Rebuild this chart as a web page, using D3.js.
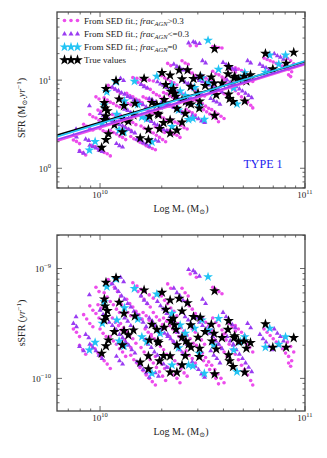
<!DOCTYPE html>
<html>
<head>
<meta charset="utf-8">
<script src="https://cdn.jsdelivr.net/npm/d3@7"></script>
<style>
  body { margin: 0; background: #fff; }
  text { font-family: "Liberation Serif", "DejaVu Serif", serif; fill: #222; }
</style>
</head>
<body>
<script>
// values: [log10 M*, log10 sSFR]; SFR follows as sSFR * M*
const trueVals = [[10.078,-9.085],[10.029,-9.127],[10.215,-9.197],[10.302,-9.218],[10.021,-9.279],[10.093,-9.309],[10.342,-9.288],[10.386,-9.273],[10.427,-9.313],[10.321,-9.373],[10.400,-9.388],[10.036,-9.385],[10.024,-9.343],[10.559,-9.204],[10.029,-9.440],[10.020,-9.470],[10.117,-9.409],[10.170,-9.434],[10.358,-9.455],[10.346,-9.476],[10.456,-9.440],[10.489,-9.445],[10.627,-9.476],[10.807,-9.506],[10.543,-9.509],[10.442,-9.515],[10.363,-9.515],[10.070,-9.576],[10.117,-9.567],[10.163,-9.561],[10.253,-9.509],[10.277,-9.555],[10.313,-9.536],[10.370,-9.555],[10.624,-9.555],[10.513,-9.576],[10.556,-9.591],[10.657,-9.615],[10.676,-9.667],[10.734,-9.676],[10.945,-9.631],[10.041,-9.652],[10.138,-9.606],[10.241,-9.652],[10.282,-9.661],[10.400,-9.627],[10.419,-9.661],[10.478,-9.627],[10.546,-9.661],[10.008,-9.773],[10.029,-9.706],[10.109,-9.697],[10.196,-9.854],[10.236,-9.797],[10.236,-9.915],[10.290,-9.843],[10.310,-9.795],[10.342,-9.797],[10.342,-9.945],[10.375,-9.945],[10.400,-9.879],[10.416,-9.795],[10.444,-9.718],[10.484,-9.803],[10.486,-9.727],[10.559,-9.961],[10.567,-9.734],[10.627,-9.788],[10.632,-9.843],[10.649,-9.894],[10.706,-9.945],[10.714,-9.727],[10.843,-9.718],[10.908,-9.718],[10.285,-9.676],[10.375,-9.697],[10.432,-9.691],[10.595,-9.631],[10.654,-9.631],[10.703,-9.661]];

const sedAgn0 = [[10.527,-9.076],[10.078,-9.097],[10.033,-9.167],[10.168,-9.182],[10.277,-9.234],[10.020,-9.304],[10.119,-9.358],[10.184,-9.461],[10.011,-9.500],[10.204,-9.622],[10.082,-9.470],[10.351,-9.409],[10.391,-9.515],[10.497,-9.470],[10.578,-9.455],[10.828,-9.545],[10.905,-9.622],[10.706,-9.622],[10.461,-9.545],[10.530,-9.561],[10.416,-9.591],[10.293,-9.591],[10.228,-9.667],[9.976,-9.673],[10.093,-9.661],[9.948,-9.743],[10.253,-9.955],[10.351,-9.879],[10.432,-9.879],[10.453,-9.888],[10.509,-9.955],[10.668,-9.940],[10.685,-9.667],[10.807,-9.718],[10.872,-9.691],[10.484,-9.773],[10.383,-9.722],[10.117,-9.706],[10.554,-9.697],[10.652,-9.743]];

const sedAgnHigh = [[9.87,-9.55],[9.885,-9.58],[9.90,-9.62],[9.95,-9.34],[9.965,-9.38],[9.98,-9.41],[9.995,-9.45],
  [10.02,-9.22],[10.035,-9.26],[10.05,-9.30],[10.065,-9.33],[10.08,-9.37],[10.095,-9.40],
  [10.04,-9.10],[10.055,-9.14],[10.07,-9.17],[10.085,-9.21],[10.10,-9.25],
  [9.96,-9.70],[9.975,-9.73],[9.99,-9.77],[10.005,-9.80],[10.02,-9.84],[10.035,-9.87],[10.05,-9.91],
  [10.05,-9.62],[10.065,-9.66],[10.08,-9.69],[10.095,-9.73],[10.11,-9.76],[10.125,-9.80],
  [10.10,-9.50],[10.115,-9.54],[10.13,-9.57],[10.145,-9.61],[10.16,-9.64],[10.175,-9.68],
  [10.13,-9.28],[10.145,-9.32],[10.16,-9.35],[10.175,-9.39],[10.19,-9.42],[10.205,-9.46],
  [10.17,-9.18],[10.185,-9.21],[10.20,-9.25],[10.215,-9.28],[10.23,-9.32],[10.245,-9.35],
  [10.20,-9.72],[10.215,-9.76],[10.23,-9.79],[10.245,-9.83],[10.26,-9.86],[10.275,-9.90],[10.29,-9.94],[10.305,-9.98],[10.32,-10.02],
  [10.25,-9.60],[10.265,-9.64],[10.28,-9.67],[10.295,-9.71],[10.31,-9.74],[10.325,-9.78],
  [10.26,-9.40],[10.275,-9.44],[10.29,-9.47],[10.305,-9.51],[10.32,-9.54],
  [10.30,-9.25],[10.315,-9.29],[10.33,-9.32],[10.345,-9.36],[10.36,-9.39],[10.375,-9.43],
  [10.35,-9.80],[10.365,-9.84],[10.38,-9.87],[10.395,-9.91],[10.41,-9.95],[10.425,-9.98],
  [10.38,-9.50],[10.395,-9.54],[10.41,-9.57],[10.425,-9.61],[10.44,-9.64],[10.455,-9.68],
  [10.42,-9.30],[10.435,-9.34],[10.45,-9.37],[10.465,-9.41],[10.48,-9.44],
  [10.47,-9.70],[10.485,-9.74],[10.50,-9.77],[10.515,-9.81],[10.53,-9.85],[10.545,-9.88],[10.56,-9.92],[10.575,-9.96],[10.59,-10.00],[10.605,-10.04],
  [10.50,-9.45],[10.515,-9.49],[10.53,-9.52],[10.545,-9.56],[10.56,-9.59],
  [10.55,-9.17],[10.565,-9.19],[10.58,-9.21],[10.595,-9.23],
  [10.60,-9.60],[10.615,-9.65],[10.63,-9.69],[10.645,-9.74],[10.66,-9.78],[10.675,-9.83],[10.69,-9.88],[10.705,-9.92],[10.72,-9.97],[10.735,-10.02],[10.745,-10.06],
  [10.66,-9.52],[10.675,-9.55],[10.69,-9.58],[10.705,-9.61],
  [10.80,-9.55],[10.815,-9.58],[10.83,-9.61],[10.845,-9.64],[10.86,-9.67],[10.875,-9.70],[10.89,-9.73],[10.905,-9.77],[10.92,-9.80],[10.935,-9.84],
  [10.90,-9.63],[10.915,-9.67],[10.93,-9.71],[10.945,-9.76],[10.92,-9.86],[10.93,-9.89],
  [10.16,-9.13],[10.18,-9.16],[10.20,-9.19],[10.22,-9.21],[10.24,-9.24],[10.26,-9.27],
  [10.15,-9.79],[10.165,-9.83],[10.18,-9.86],[10.195,-9.90],[10.21,-9.93],[10.225,-9.97],[10.24,-10.00],[10.255,-10.03],[10.27,-10.06],
  [10.49,-9.80],[10.505,-9.84],[10.52,-9.88],[10.535,-9.92],[10.55,-9.96],[10.565,-10.00],[10.578,-10.05],
  [10.33,-9.90],[10.345,-9.93],[10.36,-9.97],[10.375,-10.00],[10.39,-10.04],
  [10.44,-9.05],[10.47,-9.08],[9.99,-9.33],[10.005,-9.36],[9.90,-9.70],[9.915,-9.74],[9.93,-9.78],
  [10.09,-9.30],[10.105,-9.33],[10.12,-9.36],[10.135,-9.40],[10.15,-9.43],
  [10.21,-9.40],[10.225,-9.43],[10.24,-9.47],[10.255,-9.50],[10.27,-9.53],
  [10.31,-9.45],[10.325,-9.48],[10.34,-9.52],[10.355,-9.55],[10.37,-9.58],[10.385,-9.62],
  [10.34,-9.62],[10.355,-9.66],[10.37,-9.69],[10.385,-9.73],[10.40,-9.76],
  [10.45,-9.55],[10.465,-9.58],[10.48,-9.62],[10.495,-9.65],[10.51,-9.69],
  [10.55,-9.45],[10.565,-9.49],[10.58,-9.52],[10.595,-9.56],[10.61,-9.59],
  [10.56,-9.65],[10.575,-9.69],[10.59,-9.72],[10.605,-9.76],[10.62,-9.80],
  [10.06,-9.45],[10.075,-9.49],[10.09,-9.52],[10.105,-9.56],
  [10.12,-9.65],[10.135,-9.69],[10.15,-9.72],
  [9.92,-9.42],[9.935,-9.46],[9.95,-9.50],[9.965,-9.53],
  [10.00,-9.55],[10.015,-9.59],[10.03,-9.62],
  [10.27,-9.80],[10.285,-9.84],[10.30,-9.87],[10.315,-9.91],
  [10.42,-9.75],[10.435,-9.79],[10.45,-9.82],[10.465,-9.86],
  [10.63,-9.50],[10.645,-9.53],[10.66,-9.57],
  [10.70,-9.65],[10.715,-9.69],[10.73,-9.72],[10.745,-9.76],
  [10.22,-9.55],[10.235,-9.58],[10.25,-9.62],
  [10.40,-9.18],[10.415,-9.22],[10.43,-9.25],
  [10.33,-9.14],[10.345,-9.18],[9.98,-9.17],[9.995,-9.21]];

const sedAgnLow = [[9.87,-9.50],[9.885,-9.53],[9.948,-9.24],[9.883,-9.44],
  [9.95,-9.69],[9.965,-9.72],[9.98,-9.75],[9.995,-9.79],[10.01,-9.82],
  [10.06,-9.14],[10.075,-9.18],[10.09,-9.21],[10.105,-9.25],[10.12,-9.28],[10.135,-9.32],
  [10.08,-9.56],[10.095,-9.60],[10.11,-9.63],[10.125,-9.67],[10.14,-9.70],[10.155,-9.74],[10.17,-9.77],
  [10.15,-9.35],[10.165,-9.39],[10.18,-9.42],[10.195,-9.46],[10.21,-9.49],[10.225,-9.53],
  [10.22,-9.65],[10.235,-9.69],[10.25,-9.72],[10.265,-9.76],[10.28,-9.79],[10.295,-9.83],[10.31,-9.87],[10.325,-9.90],
  [10.28,-9.30],[10.295,-9.34],[10.31,-9.37],[10.325,-9.41],[10.34,-9.44],[10.355,-9.48],
  [10.33,-9.60],[10.345,-9.64],[10.36,-9.67],[10.375,-9.71],[10.39,-9.74],[10.405,-9.78],
  [10.40,-9.40],[10.415,-9.44],[10.43,-9.47],[10.445,-9.51],[10.46,-9.54],
  [10.45,-9.85],[10.465,-9.89],[10.48,-9.92],[10.495,-9.96],[10.51,-9.99],
  [10.432,-9.01],[10.465,-9.04],[10.455,-9.02],[10.485,-9.07],
  [10.52,-9.55],[10.535,-9.59],[10.55,-9.62],[10.565,-9.66],[10.58,-9.69],[10.595,-9.73],
  [10.60,-9.40],[10.615,-9.44],[10.63,-9.47],[10.645,-9.51],[10.66,-9.54],
  [10.65,-9.70],[10.665,-9.74],[10.68,-9.78],[10.695,-9.82],[10.71,-9.86],[10.725,-9.90],[10.74,-9.94],
  [10.78,-9.60],[10.795,-9.64],[10.81,-9.67],[10.825,-9.71],[10.84,-9.74],
  [10.85,-9.55],[10.865,-9.59],[10.88,-9.62],[10.895,-9.66],
  [10.03,-9.45],[10.045,-9.49],[10.06,-9.52],[10.075,-9.56],
  [10.18,-9.85],[10.195,-9.88],[10.21,-9.92],[10.225,-9.95],[10.24,-9.99],
  [10.36,-9.18],[10.375,-9.22],[10.39,-9.25],[10.405,-9.29],
  [10.10,-9.08],[10.115,-9.12],[9.90,-9.71],[9.92,-9.75],
  [10.00,-9.38],[10.015,-9.42],[10.03,-9.45],
  [10.12,-9.45],[10.135,-9.48],[10.15,-9.52],[10.165,-9.55],
  [10.24,-9.45],[10.255,-9.48],[10.27,-9.52],
  [10.30,-9.55],[10.315,-9.59],[10.33,-9.62],
  [10.38,-9.58],[10.395,-9.62],[10.41,-9.65],[10.425,-9.69],
  [10.47,-9.45],[10.485,-9.49],[10.50,-9.52],
  [10.54,-9.75],[10.555,-9.79],[10.57,-9.82],[10.585,-9.86],
  [10.62,-9.62],[10.635,-9.66],[10.65,-9.69],
  [10.08,-9.80],[10.095,-9.84],[10.11,-9.87],
  [10.20,-9.25],[10.215,-9.29],[10.23,-9.32],
  [10.50,-9.28],[10.515,-9.32],[9.93,-9.60],[9.945,-9.63],
  [10.27,-9.95],[10.285,-9.98],[10.72,-9.50],[10.735,-9.54]];

// power-law fits in the SFR panel: log SFR at M* = 1e10 and slope
const fitNames = ["agnHigh", "agnLow", "true", "agn0"];
const fitLogSfr10 = [0.458, 0.474, 0.520, 0.507];
const fitSlope = [0.718, 0.714, 0.690, 0.709];

const legendLabels = [">0.3", "<=0.3", "=0", "True values"];

const colMag = "#ec4cec", colPur = "#9a3cf2", colCyan = "#22c4f4", colBlack = "#000";
const fitColors = [colMag, colPur, colBlack, colCyan];

const W = 327, H = 458;
const L = 57, R = 305;
const svg = d3.select("body").append("svg").attr("width", W).attr("height", H);

const x = d3.scaleLog().domain([Math.pow(10, 9.79), 1e11]).range([L, R]);
const y1 = d3.scaleLog().domain([Math.pow(10, -0.224), Math.pow(10, 1.773)]).range([188, 12]);
const y2 = d3.scaleLog().domain([Math.pow(10, -10.297), Math.pow(10, -8.695)]).range([411, 235]);

const star = d3.symbol().type(d3.symbolStar);
const tri = d3.symbol().type(d3.symbolTriangle).size(11);

function drawPanel(y, id, valueOf){
    const top = y.range()[1], bot = y.range()[0];
    svg.append("clipPath").attr("id", id).append("rect")
        .attr("x", L).attr("y", top).attr("width", R - L).attr("height", bot - top);
    const g = svg.append("g").attr("clip-path", `url(#${id})`);

    g.selectAll(".mag").data(sedAgnHigh).join("circle")
        .attr("cx", d => x(Math.pow(10, d[0]))).attr("cy", d => y(valueOf(d)))
        .attr("r", 1.8).attr("fill", colMag);
    g.selectAll(".pur").data(sedAgnLow).join("path")
        .attr("transform", d => `translate(${x(Math.pow(10, d[0]))},${y(valueOf(d))})`)
        .attr("d", tri).attr("fill", colPur);
    g.selectAll(".cy").data(sedAgn0).join("path")
        .attr("transform", d => `translate(${x(Math.pow(10, d[0]))},${y(valueOf(d))})`)
        .attr("d", star.size(30)).attr("fill", colCyan);
    g.selectAll(".bk").data(trueVals).join("path")
        .attr("transform", d => `translate(${x(Math.pow(10, d[0]))},${y(valueOf(d))})`)
        .attr("d", star.size(36)).attr("fill", colBlack);
    return g;
}

function frame(y){
    const top = y.range()[1], bot = y.range()[0];
    const stroke = "#444";
    // minor and major ticks, pointing inward on every side
    const xMaj = [1e10, 1e11];
    const xMin = x.ticks().filter(t => !xMaj.includes(t));
    const yMaj = y.ticks().filter(t => Math.abs(Math.log10(t) - Math.round(Math.log10(t))) < 1e-6);
    const yMin = y.ticks().filter(t => !yMaj.includes(t));
    const tk = svg.append("g").attr("stroke", stroke).attr("stroke-width", 0.8);
    [[xMaj, 5], [xMin, 2.5]].forEach(([vals, len]) => {
        vals.forEach(v => {
            const px = x(v);
            tk.append("line").attr("x1", px).attr("x2", px).attr("y1", bot).attr("y2", bot - len);
            tk.append("line").attr("x1", px).attr("x2", px).attr("y1", top).attr("y2", top + len);
        });
    });
    [[yMaj, 5], [yMin, 2.5]].forEach(([vals, len]) => {
        vals.forEach(v => {
            const py = y(v);
            tk.append("line").attr("x1", L).attr("x2", L + len).attr("y1", py).attr("y2", py);
            tk.append("line").attr("x1", R).attr("x2", R - len).attr("y1", py).attr("y2", py);
        });
    });
    svg.append("rect").attr("x", L).attr("y", top).attr("width", R - L).attr("height", bot - top)
        .attr("fill", "none").attr("stroke", stroke).attr("stroke-width", 1.3);

    // tick labels
    xMaj.forEach(v => {
        const t = svg.append("text").attr("x", x(v)).attr("y", bot + 10)
            .attr("text-anchor", "middle").attr("font-size", 9);
        t.append("tspan").text("10");
        t.append("tspan").attr("dy", -4).attr("font-size", 6.5).text(Math.round(Math.log10(v)));
    });
    yMaj.forEach(v => {
        const t = svg.append("text").attr("x", 51).attr("y", y(v) + 3.5)
            .attr("text-anchor", "end").attr("font-size", 9);
        t.append("tspan").text("10");
        t.append("tspan").attr("dy", -4).attr("font-size", 6.5)
            .text(String(Math.round(Math.log10(v))).replace("-", "\u2212"));
    });

    // x label
    const xl = svg.append("text").attr("x", 181).attr("y", bot + 24)
        .attr("text-anchor", "middle").attr("font-size", 10);
    xl.append("tspan").text("Log M");
    xl.append("tspan").attr("dy", 2).attr("font-size", 7).text("*");
    xl.append("tspan").attr("dy", -2).text(" (M");
    xl.append("tspan").attr("dy", 2).attr("font-size", 7).text("\u2299");
    xl.append("tspan").attr("dy", -2).text(")");
}

// upper panel: SFR
drawPanel(y1, "clip1", d => Math.pow(10, d[0] + d[1]));
const fitLine = svg.append("g").attr("clip-path", "url(#clip1)");
fitNames.forEach((name, i) => {
    const line = d3.line()
        .x(m => x(m))
        .y(m => y1(Math.pow(10, fitLogSfr10[i] + fitSlope[i] * (Math.log10(m) - 10))));
    fitLine.append("path").attr("d", line(x.domain()))
        .attr("fill", "none").attr("stroke", fitColors[i]).attr("stroke-width", 1.8);
});
frame(y1);

// lower panel: sSFR
drawPanel(y2, "clip2", d => Math.pow(10, d[1]));
frame(y2);

// y labels
const yl1 = svg.append("text").attr("transform", "translate(25,108) rotate(-90)")
    .attr("text-anchor", "middle").attr("font-size", 10);
yl1.append("tspan").text("SFR (M");
yl1.append("tspan").attr("dy", 2).attr("font-size", 7).text("\u2299");
yl1.append("tspan").attr("dy", -2).text(".");
yl1.append("tspan").attr("font-style", "italic").text("yr");
yl1.append("tspan").attr("dy", -4).attr("font-size", 7).text("\u22121");
yl1.append("tspan").attr("dy", 4).text(")");

const yl2 = svg.append("text").attr("transform", "translate(25,323) rotate(-90)")
    .attr("text-anchor", "middle").attr("font-size", 10);
yl2.append("tspan").text("sSFR (");
yl2.append("tspan").attr("font-style", "italic").text("yr");
yl2.append("tspan").attr("dy", -4).attr("font-size", 7).text("\u22121");
yl2.append("tspan").attr("dy", 4).text(")");

// TYPE 1 tag
svg.append("text").attr("x", 263).attr("y", 168).attr("text-anchor", "middle")
    .attr("font-size", 12).style("fill", "#1a1aee").text("TYPE 1");

// legend
const legRows = [20.5, 34, 47, 60];
const legX = [64.5, 71, 77.5];
const leg = svg.append("g");
legendLabels.forEach((lab, i) => {
    const yy = legRows[i];
    legX.forEach(lx => {
        if (i === 0) leg.append("circle").attr("cx", lx).attr("cy", yy).attr("r", 1.8).attr("fill", colMag);
        if (i === 1) leg.append("path").attr("transform", `translate(${lx},${yy})`).attr("d", tri).attr("fill", colPur);
        if (i === 2) leg.append("path").attr("transform", `translate(${lx},${yy})`).attr("d", star.size(30)).attr("fill", colCyan);
        if (i === 3) leg.append("path").attr("transform", `translate(${lx},${yy})`).attr("d", star.size(36)).attr("fill", colBlack);
    });
    const t = leg.append("text").attr("x", 84).attr("y", yy + 3).attr("font-size", 9);
    if (i < 3) {
        t.append("tspan").text("From SED fit.; ");
        t.append("tspan").attr("font-style", "italic").text("frac");
        t.append("tspan").attr("font-style", "italic").attr("dy", 2).attr("font-size", 6.5).text("AGN");
        t.append("tspan").attr("dy", -2).text(lab);
    } else {
        t.text(lab);
    }
});
</script>
</body>
</html>
